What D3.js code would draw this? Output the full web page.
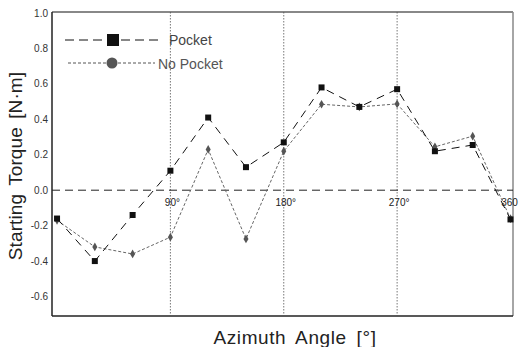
<!DOCTYPE html>
<html><head><meta charset="utf-8">
<script src="https://cdn.jsdelivr.net/npm/d3@7/dist/d3.min.js"></script>
<style>body{margin:0;background:#fff}svg{display:block}text{font-family:"Liberation Sans",Arial,sans-serif}</style>
</head><body><svg id="c" width="521" height="347"></svg>
<script>
const angles = [0,30,60,90,120,150,180,210,240,270,300,330,360];
const pocket = [-0.16,-0.40,-0.14,0.11,0.41,0.13,0.27,0.58,0.47,0.57,0.22,0.255,-0.165];
const noPocket = [-0.17,-0.32,-0.36,-0.265,0.23,-0.275,0.22,0.485,0.47,0.487,0.245,0.305,-0.16];
const yTicks = [1.0,0.8,0.6,0.4,0.2,0.0,-0.2,-0.4,-0.6];
const xMarks = [90,180,270,360];
const xMarkLabels = ["90°","180°","270°","360"];

const svg = d3.select("#c");
const L=52,R=513,T=12,B=316;
const x = d3.scaleLinear().domain([-4,362]).range([L,R]);
const y = d3.scaleLinear().domain([-0.71,1.0]).range([B,13]);

// frame
svg.append("line").attr("x1",L).attr("x2",R).attr("y1",T).attr("y2",T).attr("stroke","#888").attr("stroke-width",2);
svg.append("line").attr("x1",R).attr("x2",R).attr("y1",T).attr("y2",B).attr("stroke","#888").attr("stroke-width",1.5);
svg.append("line").attr("x1",L).attr("x2",L).attr("y1",T).attr("y2",B).attr("stroke","#222").attr("stroke-width",1.5);
svg.append("line").attr("x1",L).attr("x2",R).attr("y1",B).attr("y2",B).attr("stroke","#222").attr("stroke-width",1.5);

// vertical dotted lines
svg.selectAll(".vl").data(xMarks.slice(0,3)).enter().append("line")
  .attr("x1",d=>x(d)).attr("x2",d=>x(d)).attr("y1",T).attr("y2",B)
  .attr("stroke","#555").attr("stroke-width",0.8).attr("stroke-dasharray","1.5,1.5");
// zero line
svg.append("line").attr("x1",L).attr("x2",R).attr("y1",y(0)).attr("y2",y(0))
  .attr("stroke","#222").attr("stroke-width",1).attr("stroke-dasharray","8,5");

// y tick labels
svg.selectAll(".yt").data(yTicks).enter().append("text")
  .attr("x",48).attr("y",d=>y(d)).attr("dy","0.35em").attr("text-anchor","end")
  .attr("font-size",10).attr("fill","#333").text(d=>d.toFixed(1));
// x mark labels
svg.selectAll(".xt").data(xMarks).enter().append("text")
  .attr("x",(d,i)=>i===3?x(d)-1:x(d)+2).attr("y",y(0)+16).attr("text-anchor","middle")
  .attr("font-size",10).attr("fill","#222").text((d,i)=>xMarkLabels[i]);

// axis titles
svg.append("text").attr("transform","translate(22,166) rotate(-90)").attr("text-anchor","middle")
  .attr("font-size",19).attr("letter-spacing",0.1).attr("word-spacing",3).attr("fill","#222").text("Starting Torque [N·m]");
svg.append("text").attr("x",295).attr("y",344).attr("text-anchor","middle")
  .attr("font-size",19).attr("letter-spacing",0.6).attr("word-spacing",4).attr("fill","#222").text("Azimuth Angle [°]");

const line = d3.line().x((d,i)=>x(angles[i])).y(d=>y(d));
// No pocket
svg.append("path").attr("d",line(noPocket)).attr("fill","none").attr("stroke","#666").attr("stroke-width",1).attr("stroke-dasharray","3,2");
// Pocket
svg.append("path").attr("d",line(pocket)).attr("fill","none").attr("stroke","#111").attr("stroke-width",1).attr("stroke-dasharray","8,6");

svg.selectAll(".np").data(noPocket).enter().append("path")
  .attr("d",d3.symbol().type(d3.symbolDiamond).size(22)())
  .attr("transform",(d,i)=>`translate(${x(angles[i])},${y(d)})`).attr("fill","#555");
svg.selectAll(".pk").data(pocket).enter().append("rect")
  .attr("x",(d,i)=>x(angles[i])-3).attr("y",d=>y(d)-3).attr("width",6).attr("height",6).attr("fill","#111");

// legend
svg.append("line").attr("x1",65).attr("x2",160).attr("y1",40).attr("y2",40).attr("stroke","#111").attr("stroke-dasharray","9,5");
svg.append("rect").attr("x",107).attr("y",34).attr("width",12).attr("height",12).attr("fill","#111");
svg.append("text").attr("x",169).attr("y",45).attr("font-size",14).attr("fill","#444").text("Pocket");
svg.append("line").attr("x1",68).attr("x2",155).attr("y1",63).attr("y2",63).attr("stroke","#555").attr("stroke-dasharray","3,2");
svg.append("circle").attr("cx",112).attr("cy",63).attr("r",5.5).attr("fill","#555");
svg.append("text").attr("x",158).attr("y",68.5).attr("font-size",14).attr("fill","#555").text("No Pocket");
</script></body></html>
